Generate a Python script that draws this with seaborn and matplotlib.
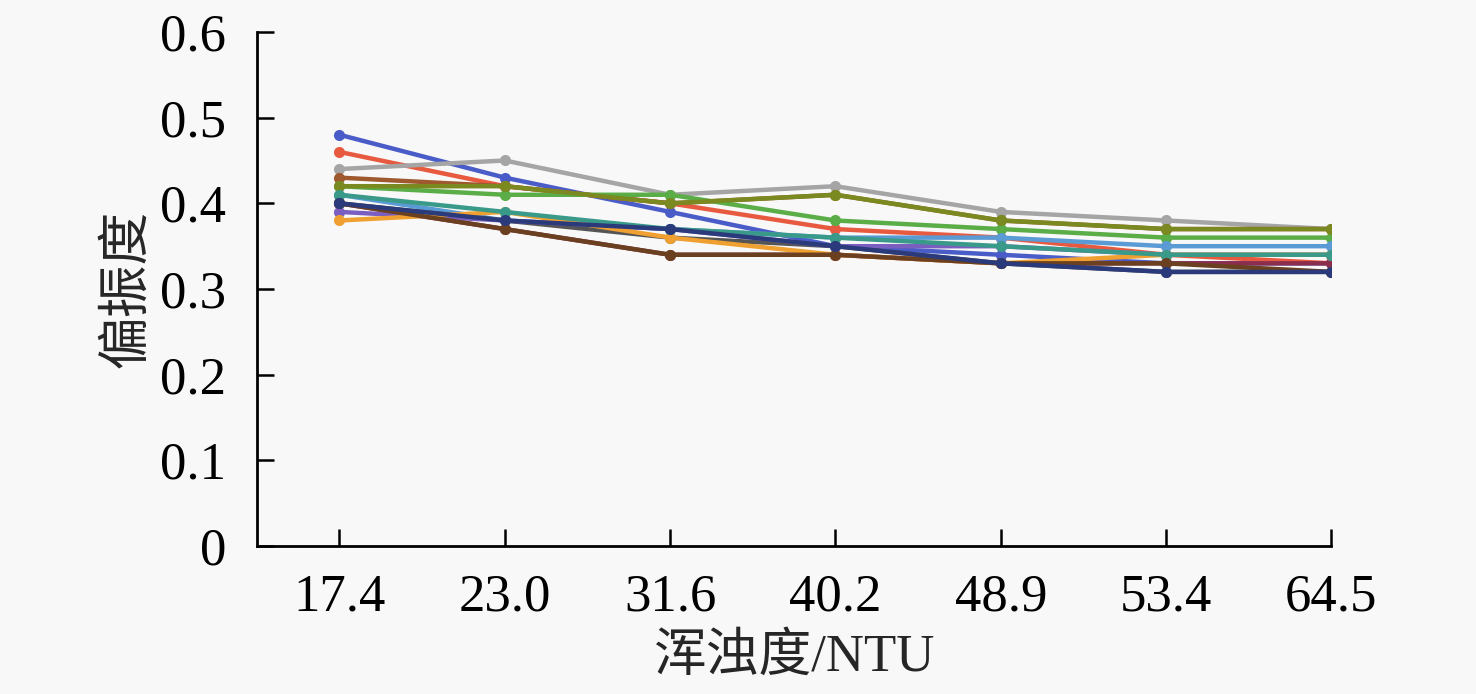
import matplotlib
matplotlib.use("Agg")
import matplotlib.pyplot as plt
import numpy as np
import pandas as pd
import seaborn as sns

# turbidity categories (NTU)
turbidity = ["17.4", "23.0", "31.6", "40.2", "48.9", "53.4", "64.5"]

# degree of polarization, one list per series
s01 = [0.48, 0.43, 0.39, 0.35, 0.34, 0.33, 0.33]
s02 = [0.46, 0.42, 0.40, 0.37, 0.36, 0.34, 0.33]
s03 = [0.44, 0.45, 0.41, 0.42, 0.39, 0.38, 0.37]
s04 = [0.43, 0.42, 0.40, 0.41, 0.38, 0.37, 0.37]
s05 = [0.42, 0.41, 0.41, 0.38, 0.37, 0.36, 0.36]
s06 = [0.41, 0.38, 0.37, 0.36, 0.36, 0.35, 0.35]
s07 = [0.40, 0.37, 0.34, 0.34, 0.33, 0.33, 0.33]
s08 = [0.40, 0.38, 0.36, 0.35, 0.33, 0.32, 0.32]
s09 = [0.39, 0.38, 0.37, 0.35, 0.35, 0.34, 0.34]
s10 = [0.38, 0.39, 0.36, 0.34, 0.33, 0.34, 0.34]
s11 = [0.42, 0.42, 0.40, 0.41, 0.38, 0.37, 0.37]
s12 = [0.41, 0.39, 0.37, 0.36, 0.35, 0.34, 0.34]
s13 = [0.40, 0.37, 0.34, 0.34, 0.33, 0.33, 0.32]
s14 = [0.40, 0.38, 0.37, 0.35, 0.33, 0.32, 0.32]

series = [s01, s02, s03, s04, s05, s06, s07, s08, s09, s10, s11, s12, s13, s14]
colors = ["#4a5cc8", "#e85a40", "#a5a5a5", "#9e5a2e", "#5aad47", "#5b9bd5",
          "#8b2e4e", "#555555", "#7a5fc0", "#f0a030", "#7a8a20", "#3a9a8a",
          "#6a4020", "#2a3a7a"]

rows = []
for k, vals in enumerate(series):
    for i, v in enumerate(vals):
        rows.append({"pos": i, "val": v, "s": f"s{k + 1}"})
df = pd.DataFrame(rows)

sns.set_style("white")
plt.rcParams["font.family"] = ["Liberation Serif", "Noto Sans CJK SC"]
plt.rcParams["xtick.direction"] = "in"
plt.rcParams["ytick.direction"] = "in"

fig = plt.figure(figsize=(14.76, 6.94), dpi=100, facecolor="#f8f8f8")
ax = fig.add_axes([0.174, 0.213, 0.728, 0.741])
ax.set_facecolor("#f8f8f8")

sns.lineplot(data=df, x="pos", y="val", hue="s", palette=colors,
             marker="o", markersize=8, markeredgewidth=0, linewidth=3.2,
             legend=False, ax=ax)

ax.set_xlim(-0.5, 6)
ax.set_ylim(0, 0.6)
ax.set_xticks(range(len(turbidity)))
ax.set_xticklabels(turbidity)
ax.set_yticks(np.arange(0, 0.61, 0.1))
ax.set_yticklabels(["0", "0.1", "0.2", "0.3", "0.4", "0.5", "0.6"])

for sp in ["top", "right"]:
    ax.spines[sp].set_visible(False)
for sp in ["left", "bottom"]:
    ax.spines[sp].set_color("black")
    ax.spines[sp].set_linewidth(2)

ax.tick_params(axis="both", which="major", direction="in", length=12, width=1.8,
               labelsize=38, colors="black", bottom=True, left=True)
ax.tick_params(axis="x", pad=20)
ax.tick_params(axis="y", pad=22)

ax.set_xlabel("浑浊度/NTU", fontsize=38, labelpad=8)
ax.set_ylabel("偏振度", fontsize=38, labelpad=6)

fig.savefig("out.png", dpi=100, facecolor=fig.get_facecolor())
